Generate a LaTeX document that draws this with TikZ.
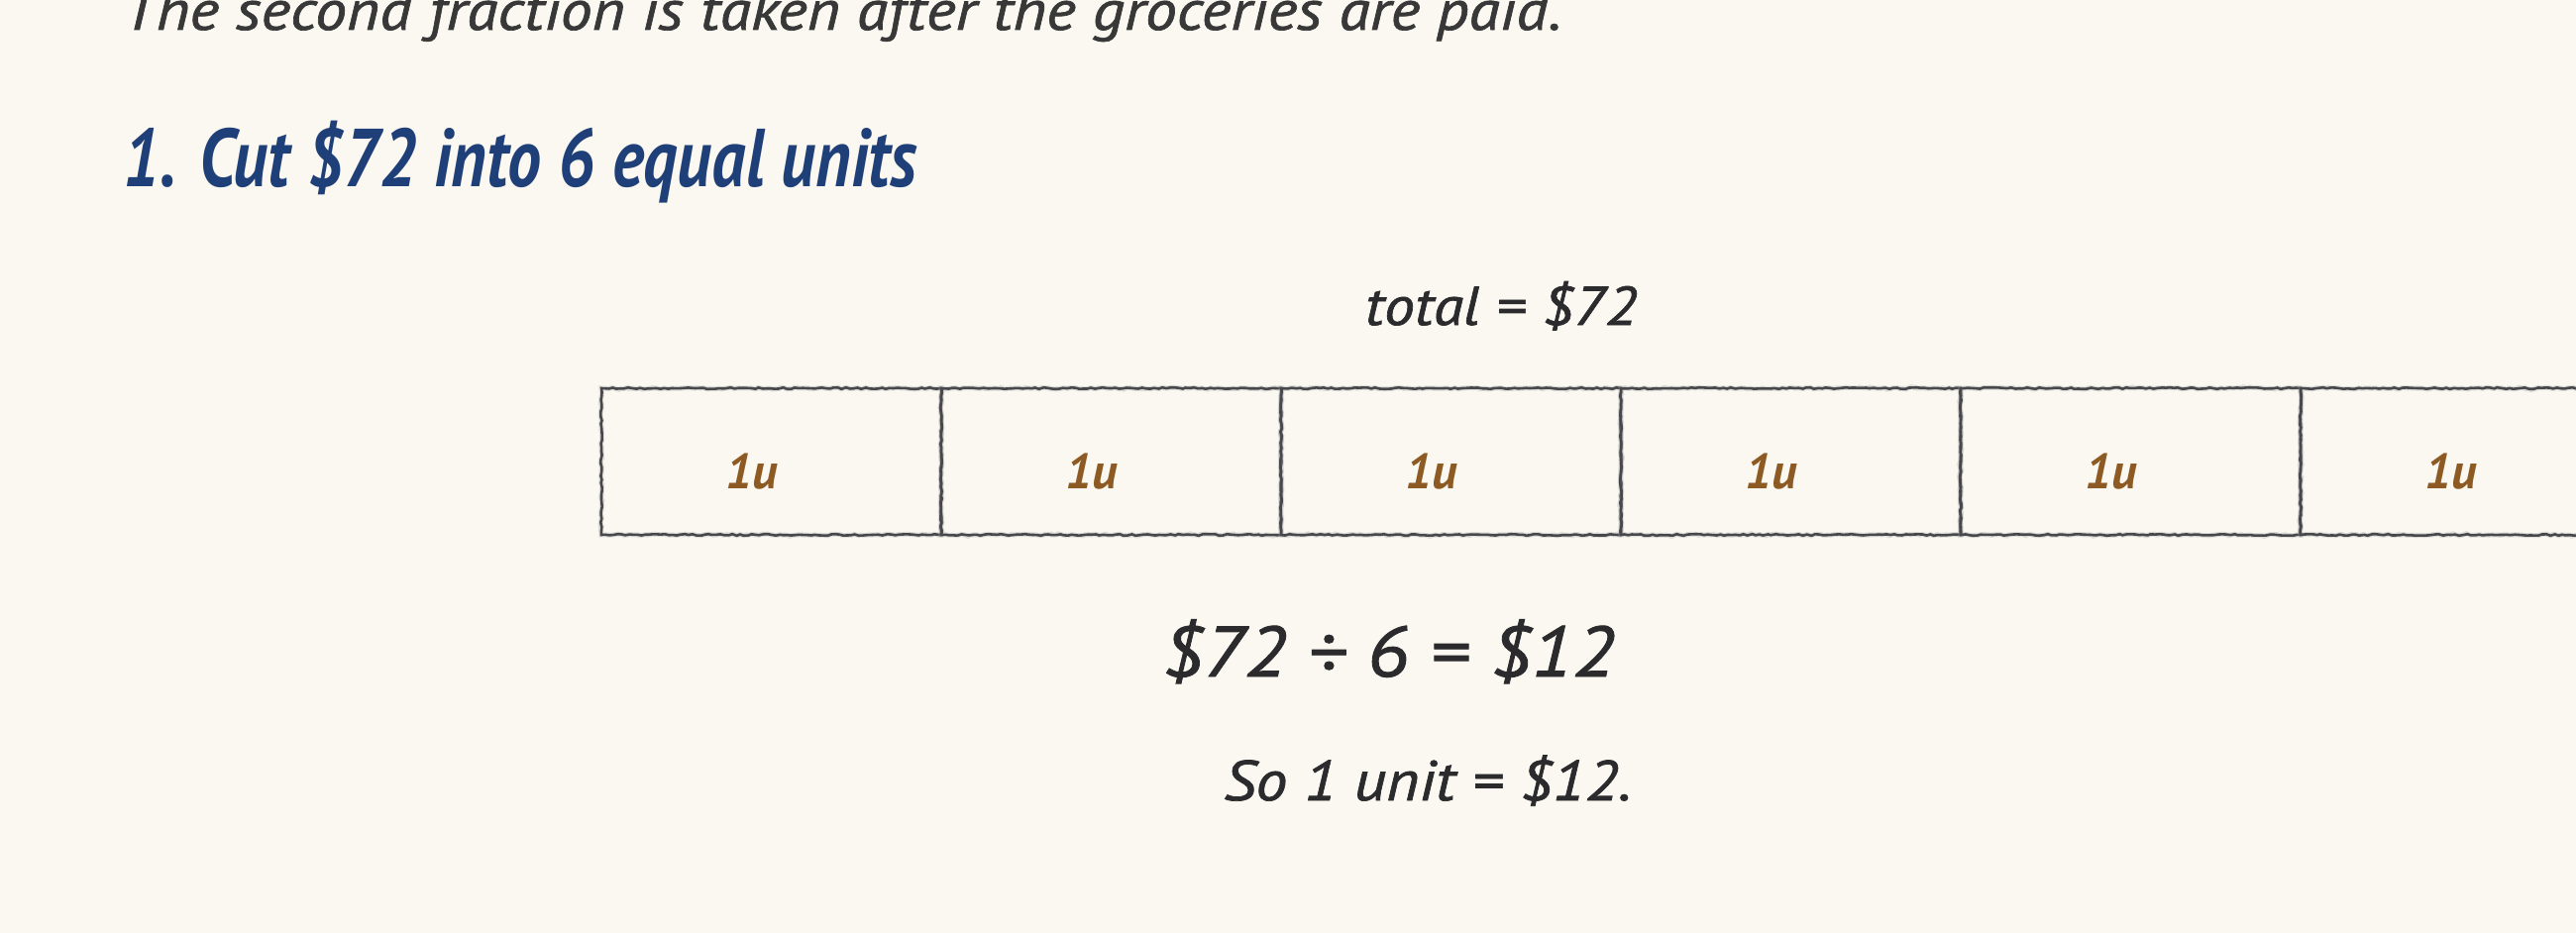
\documentclass[tikz,border=0pt]{standalone}
\usepackage{fontspec}
\setmainfont{PT Sans}
\newfontfamily\hand{PT Sans}
\newfontfamily\handw{PT Sans}[FakeStretch=1.12, FakeBold=1.2]
\newfontfamily\handhead{PT Sans}[FakeStretch=0.82]
\usetikzlibrary{decorations.pathmorphing}
\definecolor{bg}{HTML}{FAF8F0}
\definecolor{ink}{HTML}{2B2B2E}
\definecolor{introink}{HTML}{383838}
\definecolor{headink}{HTML}{1E3F78}
\definecolor{brownink}{HTML}{8C5A22}
\definecolor{pencil}{HTML}{48484C}
\tikzset{
  txt/.style={inner sep=0pt, outer sep=0pt, anchor=base},
  unitbox/.style={draw=pencil, line width=2.6pt, minimum width=343pt, minimum height=148pt,
    inner sep=0pt, decorate, decoration={random steps, segment length=4pt, amplitude=0.8pt},
    preaction={draw=pencil!45, line width=5pt, opacity=0.35, decorate,
      decoration={random steps, segment length=3pt, amplitude=1pt}}},
  ulabel/.style={txt, text=brownink, font={\hand\bfseries\itshape\fontsize{50}{60}\selectfont}},
}
\begin{document}
\begin{tikzpicture}[x=1pt,y=1pt]
\pgfmathsetseed{7}
\useasboundingbox (0,0) rectangle (2600,-942);
\fill[bg] (0,0) rectangle (2600,-942);
\clip (0,0) rectangle (2600,-942);

\node[txt, anchor=base west, text=introink, font={\handw\itshape\fontsize{57}{66}\selectfont}] (intro) at (124,-30)
  {The second fraction is taken after the groceries are paid.};

\node[txt, anchor=base west, text=headink, font={\handhead\bfseries\itshape\fontsize{83}{100}\selectfont}] (head) at (124,-188)
  {1. Cut \$72 into 6 equal units};

\node[txt, text=ink, font={\handw\itshape\fontsize{55}{64}\selectfont}] (total) at (1515,-328) {total = \$72};

\foreach \i in {1,...,6} {
  \node[unitbox] (b\i) at ({778.5+343*(\i-1)},-466) {};
  \node[ulabel] (u\i) at ([xshift=-20pt,yshift=-27pt]b\i.center) {1u};
}

\node[txt, text=ink, font={\handw\itshape\fontsize{72}{84}\selectfont}] (eq) at (1401,-683) {\$72 ÷ 6 = \$12};
\node[txt, text=ink, font={\handw\itshape\fontsize{57}{68}\selectfont}] (so) at (1441,-808) {So 1 unit = \$12.};
\end{tikzpicture}
\end{document}
